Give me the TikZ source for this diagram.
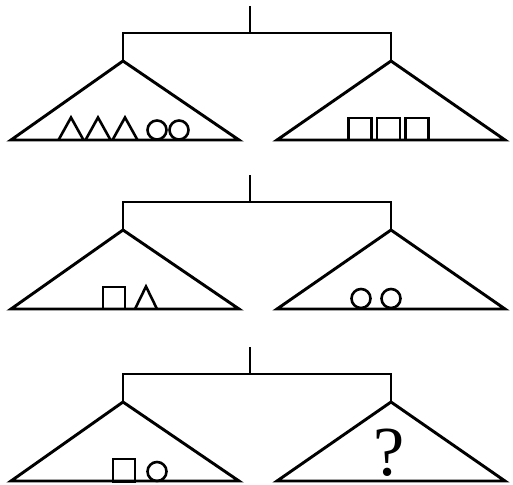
\documentclass[tikz,border=0pt]{standalone}
\usepackage{fontspec}
\setmainfont{Liberation Serif}
\usepackage{tikz}

\begin{document}
\begin{tikzpicture}[x=0.03cm, y=-0.03cm, pan/.style={line width=2.5pt, line join=miter}, item/.style={line width=2.2pt, line join=miter}]
	\useasboundingbox (0,0) rectangle (513,485);
	% the three balances
	\foreach \r/\dy in {1/0, 2/169, 3/341} {
		\coordinate (top\r) at (250,6+\dy);
		\coordinate (mid\r) at (250,33+\dy);
		\coordinate (barL\r) at (123,33+\dy);
		\coordinate (barR\r) at (391,33+\dy);
		\coordinate (apexL\r) at (123,61+\dy);
		\coordinate (apexR\r) at (391,61+\dy);
		\draw[pan] (top\r) -- (mid\r);
		\draw[pan] (apexL\r) -- (barL\r) -- (barR\r) -- (apexR\r);
		\draw[pan] (apexL\r) -- (11,140+\dy) -- (239,140+\dy) -- cycle;
		\draw[pan] (apexR\r) -- (277,140+\dy) -- (505,140+\dy) -- cycle;
	}
	% row 1
	\foreach \x in {71,98,125}
		\draw[item] (\x-12.5,140) -- (\x,117.5) -- (\x+12.5,140);
	\draw[item] (157,130) circle (9.5) (179,130) circle (9.5);
	\foreach \x in {360,388.5,417}
		\draw[item] (\x-11.5,140) rectangle (\x+11.5,118);
	% row 2
	\draw[item] (103,309) rectangle (125,287);
	\draw[item] (135,309) -- (146,286.5) -- (157,309);
	\draw[item] (361,298.5) circle (9.5) (391,298.5) circle (9.5);
	% row 3
	\draw[item] (113,482) rectangle (135,459);
	\draw[item] (157,471.5) circle (9.5);
	\node[anchor=base, inner sep=0pt, font=\fontsize{60}{64}\selectfont] (ask) at (389,475) {?};
\end{tikzpicture}
\end{document}
